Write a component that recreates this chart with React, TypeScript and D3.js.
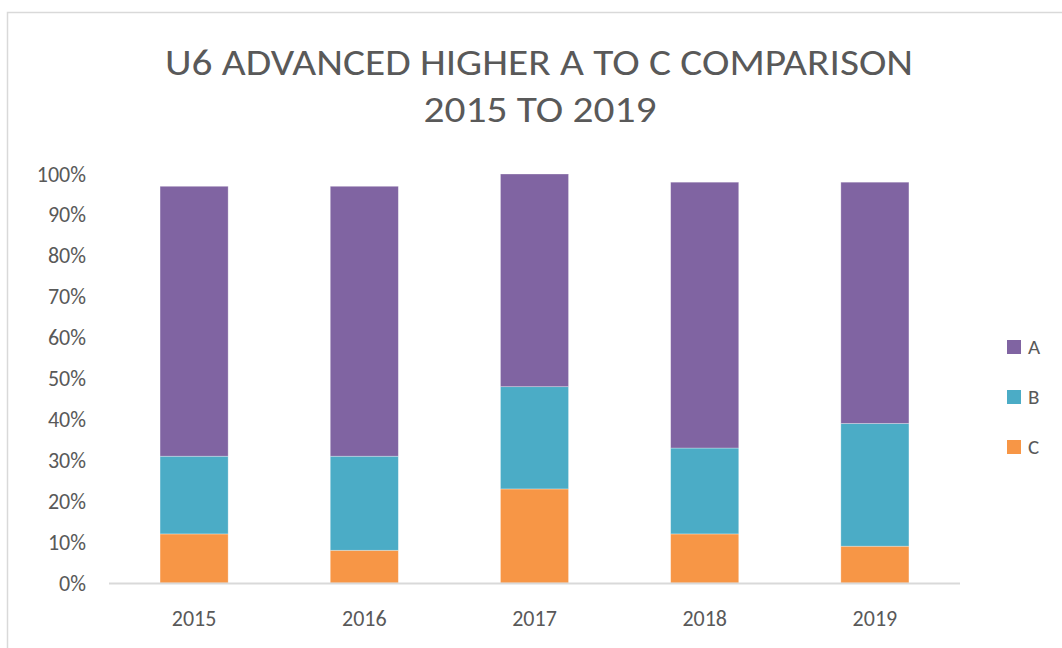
import React from 'react';
import * as d3 from 'd3';

// percentages per year, stacked bottom-up: C, B, A
const years = ['2015', '2016', '2017', '2018', '2019'];
const seriesC = [12, 8, 23, 12, 9];
const seriesB = [19, 23, 25, 21, 30];
const seriesA = [66, 66, 52, 65, 59];
const yTicks = [0, 10, 20, 30, 40, 50, 60, 70, 80, 90, 100];
const legendKeys = ['A', 'B', 'C'];

const colors: Record<string, string> = { A: '#8064a2', B: '#4bacc6', C: '#f79646' };
const font = "Calibri, Carlito, Lato, 'Open Sans', sans-serif";
const textColor = '#595959';

export default function App() {
  const width = 1062;
  const height = 648;
  const left = 109, right = 960, top = 174, bottom = 583;

  const x = d3.scaleBand().domain(years).range([left, right]).paddingInner(0.6).paddingOuter(0.3);
  const y = d3.scaleLinear().domain([0, 100]).range([bottom, top]);

  const rows = years.map((yr, i) => ({ year: yr, C: seriesC[i], B: seriesB[i], A: seriesA[i] }));
  const stack = d3.stack<any>().keys(['C', 'B', 'A']);
  const layers = stack(rows);

  return (
    <svg width={width} height={height} style={{ position: 'absolute', left: 0, top: 0, background: '#fff' }}>
      <rect x={7.5} y={12.5} width={1080} height={700} fill="#fff" stroke="#d9d9d9" strokeWidth={1.5} />
      <text x={539} y={63} textAnchor="middle" dominantBaseline="central" fontFamily={font} fontSize={36} fill={textColor}
        textLength={748} lengthAdjust="spacingAndGlyphs">
        U6 ADVANCED HIGHER A TO C COMPARISON
      </text>
      <text x={540} y={110} textAnchor="middle" dominantBaseline="central" fontFamily={font} fontSize={36} fill={textColor}
        textLength={233} lengthAdjust="spacingAndGlyphs">
        2015 TO 2019
      </text>

      {yTicks.map(t => (
        <text key={t} x={86} y={y(t)} textAnchor="end" dominantBaseline="central" fontFamily={font} fontSize={22} fill={textColor}>
          {t}%
        </text>
      ))}

      {layers.map(layer => (
        <g key={layer.key} fill={colors[layer.key]}>
          {layer.map((d, i) => (
            <rect key={i} x={x(years[i])} y={y(d[1])} width={x.bandwidth()} height={y(d[0]) - y(d[1])}
              stroke="#fff" strokeOpacity={0.4} strokeWidth={0.75} />
          ))}
        </g>
      ))}

      <line x1={left} x2={right} y1={bottom + 0.5} y2={bottom + 0.5} stroke="#d9d9d9" strokeWidth={2} />

      {years.map(yr => (
        <text key={yr} x={x(yr)! + x.bandwidth() / 2} y={618} textAnchor="middle" dominantBaseline="central"
          fontFamily={font} fontSize={22} fill={textColor}>
          {yr}
        </text>
      ))}

      {legendKeys.map((k, i) => (
        <g key={k} transform={`translate(1007, ${347 + i * 50})`}>
          <rect x={0} y={-7} width={14} height={14} fill={colors[k]} />
          <text x={21} y={0} dominantBaseline="central" fontFamily={font} fontSize={21} fill={textColor}>{k}</text>
        </g>
      ))}
    </svg>
  );
}
